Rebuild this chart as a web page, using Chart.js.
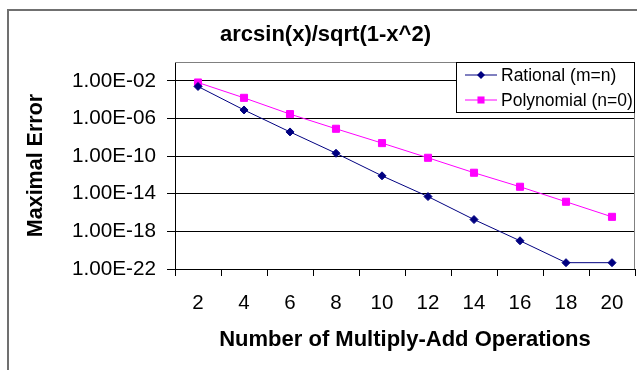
<!DOCTYPE html>
<html>
<head>
<meta charset="utf-8">
<script src="https://cdn.jsdelivr.net/npm/chart.js@4/dist/chart.umd.min.js"></script>
<style>
	html, body { margin: 0; padding: 0; background: #fff; overflow: hidden; }
	#wrap { width: 637px; height: 370px; overflow: hidden; }
</style>
</head>
<body>
<div id="wrap"><canvas id="errorChart" width="641" height="370"></canvas></div>
<script>
const categories = [ '2', '4', '6', '8', '10', '12', '14', '16', '18', '20' ];
const rationalErrors = [ 2.5e-3, 8e-6, 3.7e-8, 2e-10, 8e-13, 5e-15, 1.8e-17, 1e-19, 4.7e-22, 4.7e-22 ];
const polynomialErrors = [ 6.6e-3, 1.55e-4, 2.9e-6, 8e-8, 2.4e-9, 6.6e-11, 1.7e-12, 5.5e-14, 1.4e-15, 3.5e-17 ];
const yTicks = [ 1e-22, 1e-18, 1e-14, 1e-10, 1e-6, 1e-2 ];
const yTickLabels = [ '1.00E-22', '1.00E-18', '1.00E-14', '1.00E-10', '1.00E-06', '1.00E-02' ];

Chart.defaults.font.family = 'Arial, "Liberation Sans", sans-serif';
Chart.defaults.color = '#000';

// Gray frame round the whole chart, Excel style
const outerFrame = {
	id: 'outerFrame',
	beforeDraw( chart ) {
		const { ctx } = chart;
		ctx.save();
		ctx.strokeStyle = '#707070';
		ctx.lineWidth = 2;
		ctx.strokeRect( 8, 10, 800, 500 );
		ctx.restore();
	},
	beforeDatasetsDraw( chart ) {
		// top and right edge of the plot area
		const { ctx, chartArea } = chart;
		ctx.save();
		ctx.strokeStyle = '#808080';
		ctx.lineWidth = 1;
		ctx.beginPath();
		ctx.moveTo( chartArea.left, chartArea.top + 0.5 );
		ctx.lineTo( chartArea.right - 0.5, chartArea.top + 0.5 );
		ctx.lineTo( chartArea.right - 0.5, chartArea.bottom );
		ctx.stroke();
		ctx.restore();
	},
};

// Boxed legend sitting over the top right of the plot
const boxLegend = {
	id: 'boxLegend',
	afterDraw( chart ) {
		const { ctx } = chart;
		const left = 456.5;
		const top = 62.5;
		ctx.save();
		ctx.fillStyle = '#fff';
		ctx.strokeStyle = '#000';
		ctx.lineWidth = 1;
		ctx.fillRect( left, top, 178, 50 );
		ctx.strokeRect( left, top, 178, 50 );
		ctx.font = '17.5px Arial, "Liberation Sans", sans-serif';
		ctx.textBaseline = 'middle';
		chart.data.datasets.forEach( ( ds, i ) => {
			const y = 75 + i * 25;
			ctx.strokeStyle = ds.borderColor;
			ctx.lineWidth = 1;
			ctx.beginPath();
			ctx.moveTo( 465, y );
			ctx.lineTo( 497, y );
			ctx.stroke();
			ctx.fillStyle = ds.pointBackgroundColor;
			Chart.helpers.drawPoint( ctx, {
				pointStyle: ds.pointStyle,
				radius: ds.pointRadius,
				rotation: 0,
				borderWidth: 0,
			}, 481, y );
			ctx.fillStyle = '#000';
			ctx.fillText( ds.label, 501, y + 1 );
		} );
		ctx.restore();
	},
};

new Chart( document.getElementById( 'errorChart' ), {
	type: 'line',
	data: {
		labels: categories,
		datasets: [
			{
				label: 'Rational (m=n)',
				data: rationalErrors,
				borderColor: '#000080',
				backgroundColor: '#000080',
				pointBackgroundColor: '#000080',
				pointBorderColor: '#000080',
				pointStyle: 'rectRot',
				pointRadius: 4,
				borderWidth: 1,
				tension: 0,
			},
			{
				label: 'Polynomial (n=0)',
				data: polynomialErrors,
				borderColor: '#ff00ff',
				backgroundColor: '#ff00ff',
				pointBackgroundColor: '#ff00ff',
				pointBorderColor: '#ff00ff',
				pointStyle: 'rect',
				pointRadius: 5,
				borderWidth: 1,
				tension: 0,
			},
		],
	},
	options: {
		responsive: false,
		animation: false,
		layout: {
			padding: { left: 10, top: 0, right: 0, bottom: 0 },
		},
		plugins: {
			legend: { display: false },
			tooltip: { enabled: false },
			title: {
				display: true,
				text: 'arcsin(x)/sqrt(1-x^2)',
				font: { size: 22, weight: 'bold' },
				padding: { top: 22, bottom: 13.6 },
			},
		},
		scales: {
			x: {
				offset: true,
				grid: {
					offset: true,
					drawOnChartArea: false,
					color: '#000',
					tickLength: 7,
				},
				border: { color: '#000' },
				ticks: {
					font: { size: 20.5 },
					padding: 15,
					maxRotation: 0,
				},
				title: {
					display: true,
					text: 'Number of Multiply-Add Operations',
					font: { size: 22, weight: 'bold' },
					padding: { top: 0, bottom: 16.5 },
				},
				afterFit( scale ) {
					scale.height = 101;
				},
			},
			y: {
				type: 'logarithmic',
				min: 1e-22,
				max: 1,
				grid: {
					color: '#000',
					tickLength: 8,
				},
				border: { color: '#000' },
				ticks: {
					font: { size: 20.7 },
					padding: 11,
					callback: ( value, index ) => yTickLabels[ index ],
				},
				afterBuildTicks( scale ) {
					scale.ticks = yTicks.map( ( value ) => ( { value } ) );
				},
				title: {
					display: true,
					text: 'Maximal Error',
					font: { size: 21.5, weight: 'bold' },
					padding: { top: 13.5, bottom: 0 },
				},
				afterFit( scale ) {
					scale.width = 165;
				},
			},
		},
	},
	plugins: [ outerFrame, boxLegend ],
} );
</script>
</body>
</html>
